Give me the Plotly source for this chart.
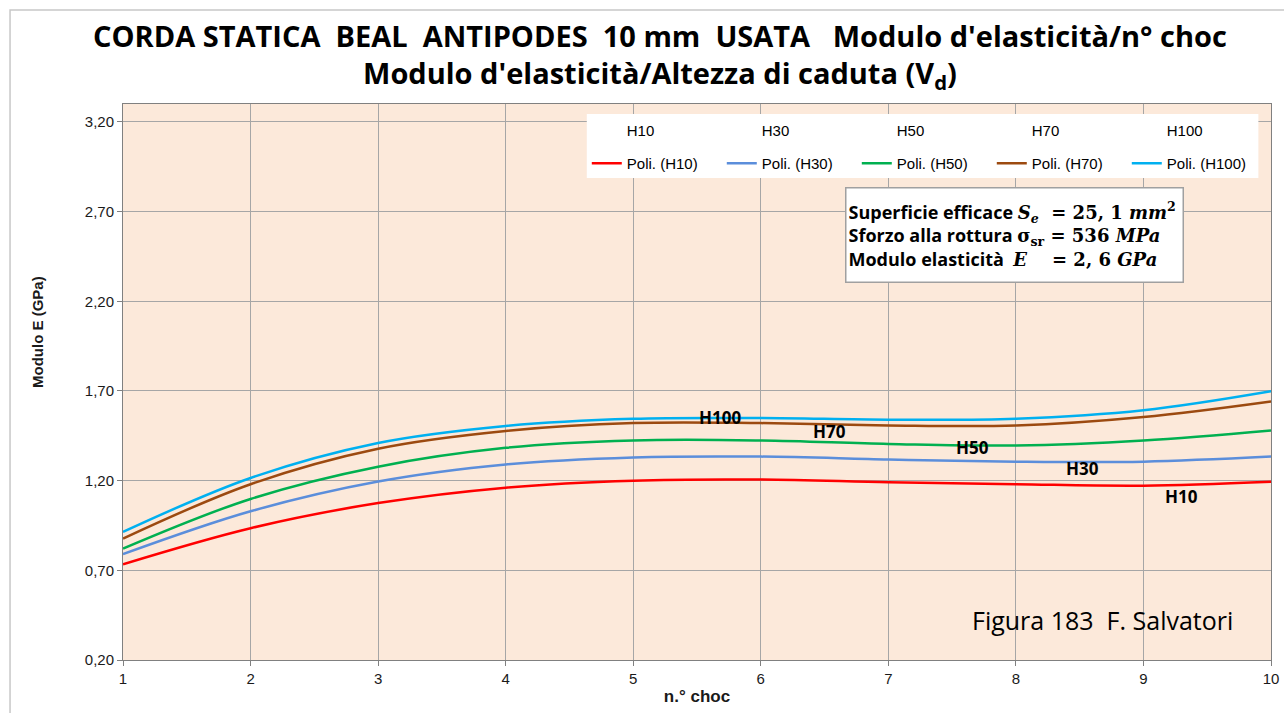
import plotly.graph_objects as go

# ---- data ----
x_choc = [1, 2, 3, 4, 5, 6, 7, 8, 9, 10]
H10 = [0.734, 0.935, 1.075, 1.161, 1.200, 1.206, 1.191, 1.180, 1.172, 1.194]
H30 = [0.790, 1.029, 1.195, 1.290, 1.329, 1.334, 1.318, 1.306, 1.306, 1.334]
H50 = [0.821, 1.098, 1.278, 1.383, 1.424, 1.424, 1.405, 1.396, 1.424, 1.480]
H70 = [0.877, 1.180, 1.378, 1.477, 1.521, 1.521, 1.508, 1.508, 1.555, 1.642]
H100 = [0.914, 1.215, 1.410, 1.505, 1.545, 1.549, 1.540, 1.545, 1.592, 1.698]

series_names = ["H10", "H30", "H50", "H70", "H100"]
series_values = [H10, H30, H50, H70, H100]
series_colors = ["#FF0000", "#5B8EDB", "#00B050", "#9C4A10", "#00B0F0"]

# curve labels (x, y in data units)
label_x = [9.30, 8.52, 7.66, 6.54, 5.68]
label_y = [1.109, 1.266, 1.383, 1.473, 1.551]

y_ticks = [0.2, 0.7, 1.2, 1.7, 2.2, 2.7, 3.2]

fig = go.Figure()

# data series (no markers shown) -> top legend row
for name, vals in zip(series_names, series_values):
    fig.add_trace(go.Scatter(
        x=x_choc, y=vals, name=name, mode="markers",
        marker=dict(size=1, color="rgba(0,0,0,0)", line=dict(width=0)),
        legend="legend", hoverinfo="skip"))

# polynomial trend lines -> second legend row
for name, vals, col in zip(series_names, series_values, series_colors):
    fig.add_trace(go.Scatter(
        x=x_choc, y=vals, name=f"Poli. ({name})", mode="lines",
        line=dict(color=col, width=2.5, shape="spline", smoothing=1.0),
        legend="legend2"))

# curve labels
for name, lx, ly in zip(series_names, label_x, label_y):
    fig.add_annotation(x=lx, y=ly, text=f"<b>{name}</b>", showarrow=False,
                       xanchor="center", yanchor="middle",
                       font=dict(family="Open Sans", size=17, color="black"))

grid_col = "#A6A6A6"
fig.update_xaxes(range=[1, 10], dtick=1, tick0=1, showgrid=True, gridcolor=grid_col,
                 gridwidth=1, showline=True, linecolor="#808080", linewidth=1, mirror=True,
                 ticks="outside", ticklen=5, tickcolor="#808080",
                 tickfont=dict(family="Liberation Sans", size=15, color="#1a1a1a"),
                 zeroline=False, automargin=False,
                 title=dict(text="<b>n.° choc</b>", standoff=4,
                            font=dict(family="Liberation Sans", size=17, color="#1a1a1a")))
fig.update_yaxes(range=[0.2, 3.3], tickvals=y_ticks, tickformat=".2f", showgrid=True,
                 gridcolor=grid_col, gridwidth=1, showline=True, linecolor="#808080",
                 linewidth=1, mirror=True, ticks="outside", ticklen=5, tickcolor="#808080",
                 tickfont=dict(family="Liberation Sans", size=15, color="#1a1a1a"),
                 zeroline=False, automargin=False)

# y axis title as annotation
fig.add_annotation(xref="paper", yref="paper", x=-0.074, y=0.59, text="<b>Modulo E (GPa)</b>",
                   textangle=-90, showarrow=False, xanchor="center", yanchor="middle",
                   font=dict(family="Liberation Sans", size=15, color="#1a1a1a"))

# legend background box
fig.add_shape(type="rect", xref="paper", yref="paper", x0=0.404, x1=0.989, y0=0.867, y1=0.982,
              fillcolor="white", line=dict(width=0), layer="above")

# outer chart border
fig.add_shape(type="rect", xref="paper", yref="paper", x0=-0.0984, x1=1.03, y0=-0.13, y1=1.169,
              fillcolor="rgba(0,0,0,0)", line=dict(color="#C8C8C8", width=1.5), layer="above")

# info box
info = ("<b>Superficie efficace <span style='font-family:DejaVu Serif'><i>S<sub>e</sub></i>"
        "&nbsp;&nbsp;= 25, 1 <i>mm</i><sup>2</sup></span><br>"
        "Sforzo alla rottura <span style='font-family:DejaVu Serif'>σ<sub>sr</sub> = 536 <i>MPa</i></span><br>"
        "Modulo elasticità&nbsp;&nbsp;<span style='font-family:DejaVu Serif'><i>E</i>&nbsp;&nbsp;&nbsp;&nbsp;= 2, 6 <i>GPa</i></span></b>")
fig.add_annotation(xref="paper", yref="paper", x=0.777, y=0.7635, text=info, showarrow=False,
                   xanchor="center", yanchor="middle",
                   align="left", bgcolor="white", bordercolor="#A0A0A0", borderwidth=1.5,
                   width=332, height=89, borderpad=2,
                   font=dict(family="Open Sans", size=18, color="black"))

fig.add_annotation(xref="paper", yref="paper", x=0.853, y=0.072, text="Figura 183&nbsp;&nbsp;F. Salvatori",
                   showarrow=False, xanchor="center", yanchor="middle",
                   font=dict(family="Open Sans", size=25, color="black"))

fig.update_layout(
    width=1284, height=713,
    margin=dict(l=123, r=13, t=104, b=53, autoexpand=False),
    paper_bgcolor="white", plot_bgcolor="#FCE9DA",
    separators=",.",
    title=dict(text="<b>CORDA STATICA&nbsp;&nbsp;BEAL&nbsp;&nbsp;ANTIPODES&nbsp;&nbsp;10 mm&nbsp;&nbsp;USATA&nbsp;&nbsp;&nbsp;Modulo d'elasticità/n° choc"
                    "<br>Modulo d'elasticità/Altezza di caduta (V<sub>d</sub>)</b>",
               x=0.514, xanchor="center", y=0.9345, yanchor="middle",
               font=dict(family="Open Sans", size=29, color="black")),
    legend=dict(orientation="h", x=0.404, y=0.982, xanchor="left", yanchor="top",
                bgcolor="rgba(0,0,0,0)", entrywidth=90, entrywidthmode="pixels",
                font=dict(family="Liberation Sans", size=15, color="black"), itemwidth=30),
    legend2=dict(orientation="h", x=0.404, y=0.9227, xanchor="left", yanchor="top",
                 bgcolor="rgba(0,0,0,0)", entrywidth=90, entrywidthmode="pixels",
                 font=dict(family="Liberation Sans", size=15, color="black"), itemwidth=30),
    showlegend=True,
)

fig.write_html("out.html", config={"displayModeBar": False},
               post_script="document.body.style.margin='0';document.body.style.overflow='hidden';")
